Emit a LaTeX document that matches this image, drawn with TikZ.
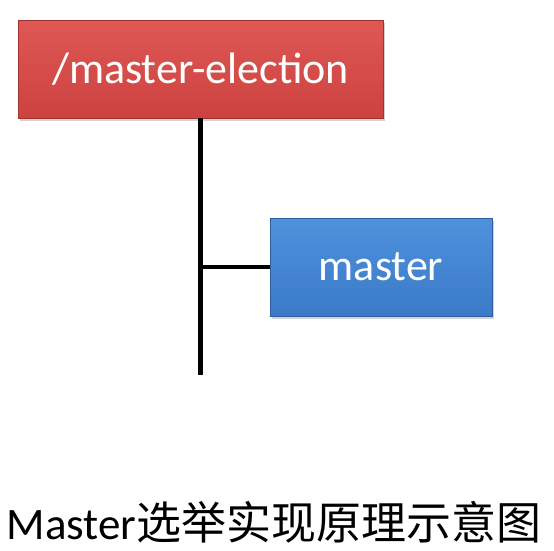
\documentclass[tikz,border=0pt]{standalone}
\usepackage{fontspec}
\setmainfont{Carlito}
\newfontfamily\cjk{Noto Sans CJK SC}
\usetikzlibrary{positioning,shadows}
\definecolor{zred}{RGB}{205,66,64}
\definecolor{zredtop}{RGB}{222,88,84}
\definecolor{zredline}{RGB}{160,50,48}
\definecolor{zblue}{RGB}{58,122,200}
\definecolor{zbluetop}{RGB}{80,145,220}
\definecolor{zblueline}{RGB}{45,95,160}

\begin{document}
\begin{tikzpicture}[x=1pt, y=-1pt,
    znode/.style={draw, line width=0.8pt, text=white, font=\fontsize{44}{48}\selectfont,
                  inner sep=0pt, drop shadow={shadow xshift=2pt, shadow yshift=-3pt, opacity=0.35}},
    link/.style={line width=4.5pt}
]
\useasboundingbox (0,0) rectangle (554,550);

% Zookeeper nodes
\node[znode, draw=zredline, top color=zredtop, bottom color=zred,
      minimum width=365pt, minimum height=98pt] (election) at (200.5, 69) {/master-election};
\node[znode, draw=zblueline, top color=zbluetop, bottom color=zblue,
      minimum width=222pt, minimum height=98pt] (master) at (381, 267) {master};
\coordinate (tail) at (200.5, 375);

\draw[link] (election.south) -- (tail);
\draw[link] (master.west) -- (master.west -| election.south);

% caption
\node[font=\fontsize{45}{50}\selectfont, anchor=west] (caption) at (3, 522) {Master{\cjk 选举实现原理示意图}};

\end{tikzpicture}
\end{document}
